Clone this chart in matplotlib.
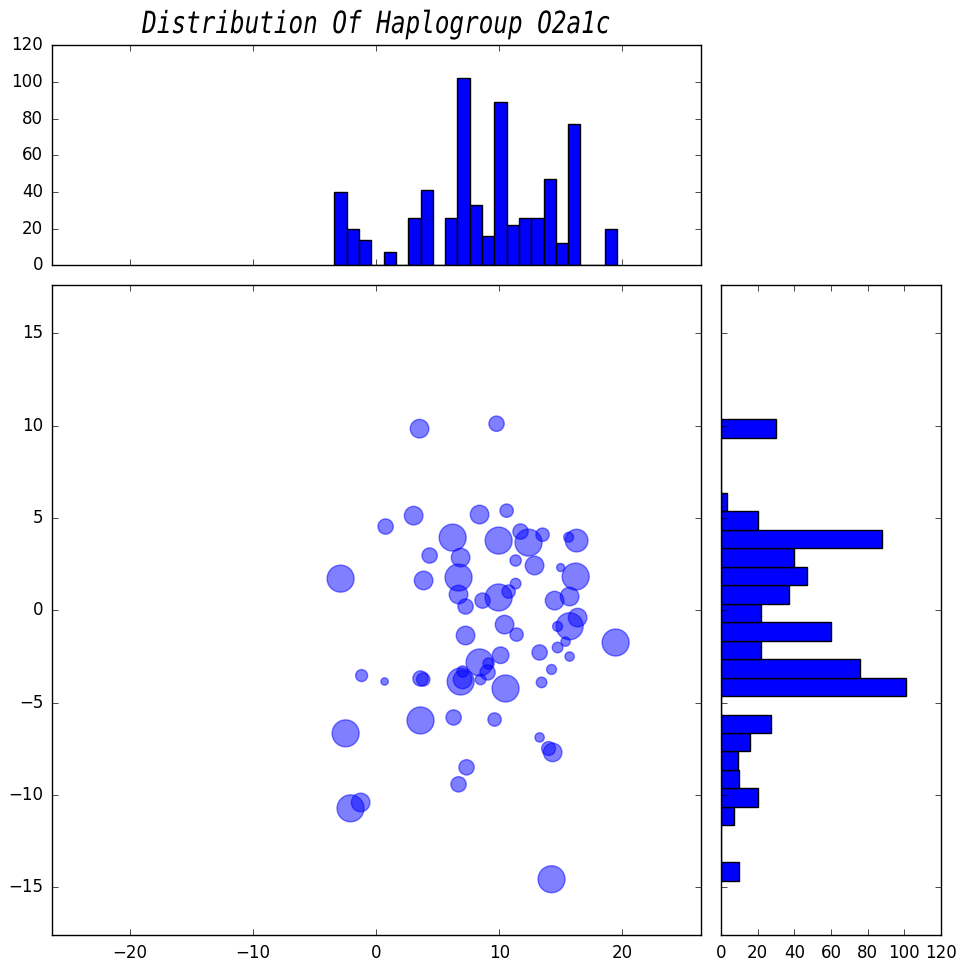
import matplotlib
matplotlib.use("Agg")
import matplotlib.pyplot as plt
import matplotlib.patheffects as pe
from matplotlib.transforms import Affine2D

title = "Distribution Of Haplogroup O2a1c"

x = [3.52, 9.78, 8.40, 10.60, 3.04, 0.76, 6.21, 9.95, 11.73, 12.38, 13.52, 15.64, 16.29, 4.34,
     6.86, 11.33, 12.87, 14.99, -2.90, 6.69, 16.21, 3.85, 11.33, 10.76, 9.95, 6.69, 8.64, 14.50,
     15.72, 7.26, 16.37, 15.72, 14.74, 10.43, 11.41, 7.26, 19.46, 15.39, 14.74, 13.28, 15.72, 10.11,
     8.40, 14.25, 13.44, 9.13, 9.05, 8.48, 7.02, 7.02, 6.86, 10.51, -1.19, 0.68, 3.60, 3.82,
     3.60, 6.29, 9.62, -2.49, 13.28, 14.01, 14.34, 7.34, 6.69, -1.27, -2.09, 14.25]
y = [9.83, 10.10, 5.18, 5.39, 5.12, 4.53, 3.93, 3.77, 4.26, 3.66, 4.09, 3.95, 3.77, 2.96,
     2.85, 2.69, 2.42, 2.31, 1.71, 1.77, 1.82, 1.61, 1.44, 1.01, 0.69, 0.85, 0.52, 0.52,
     0.74, 0.20, -0.40, -0.87, -0.88, -0.78, -1.32, -1.37, -1.75, -1.70, -2.02, -2.29, -2.51, -2.44,
     -2.83, -3.21, -3.91, -2.89, -3.37, -3.75, -3.32, -3.75, -3.86, -4.24, -3.54, -3.86, -3.70, -3.75,
     -5.97, -5.81, -5.92, -6.67, -6.89, -7.49, -7.70, -8.51, -9.43, -10.41, -10.73, -14.57]
sizes = [179, 121, 179, 92, 179, 121, 377, 377, 121, 377, 92, 51, 265, 121,
         179, 66, 179, 33, 377, 377, 377, 179, 58, 92, 377, 179, 121, 179,
         179, 121, 179, 377, 51, 179, 92, 179, 377, 45, 58, 121, 45, 143,
         377, 51, 58, 66, 121, 58, 66, 179, 377, 377, 74, 28, 121, 92,
         377, 121, 92, 377, 45, 100, 179, 121, 121, 179, 377, 377]

top_edges = [-3.4, -2.4, -1.4, -0.4, 0.6, 1.6, 2.6, 3.6, 4.6, 5.6, 6.6, 7.6, 8.6, 9.6, 10.6,
             11.6, 12.6, 13.6, 14.6, 15.6, 16.6, 17.6, 18.6]
top_counts = [40, 20, 14, 0, 7, 0, 26, 41, 0, 26, 102, 33, 16, 89, 22,
              26, 26, 47, 12, 77, 0, 0, 20]
right_edges = [-14.65, -13.65, -12.65, -11.65, -10.65, -9.65, -8.65, -7.65, -6.65, -5.65, -4.65,
               -3.65, -2.65, -1.65, -0.65, 0.35, 1.35, 2.35, 3.35, 4.35, 5.35, 6.35, 7.35, 8.35, 9.35]
right_counts = [10, 0, 0, 7, 20, 10, 9, 16, 27, 0, 101,
                76, 22, 60, 22, 37, 47, 40, 88, 20, 3, 0, 0, 0, 30]

x_ticks = [-20, -10, 0, 10, 20]
y_ticks = [-15, -10, -5, 0, 5, 10, 15]
count_ticks = [0, 20, 40, 60, 80, 100, 120]

plt.style.use("classic")
plt.rcParams["font.family"] = "DejaVu Sans"
W, H = 966, 969
fig = plt.figure(figsize=(W / 100, H / 100), dpi=100, facecolor="white")

def box(l, t, r, b):
    return [l / W, 1 - b / H, (r - l) / W, (b - t) / H]

ax = fig.add_axes(box(51.5, 285.2, 701, 935.2))
ax_top = fig.add_axes(box(51.5, 45.2, 701, 265.2))
ax_right = fig.add_axes(box(721, 285.2, 941, 935.2))

ax.scatter(x, y, s=sizes, c="blue", edgecolors="blue", alpha=0.5, linewidths=1)
ax.set_xlim(-26.4, 26.4)
ax.set_ylim(-17.6, 17.6)
ax.set_xticks(x_ticks)
ax.set_yticks(y_ticks)

ax_top.bar(top_edges, top_counts, width=1.0, align="edge", color="blue", edgecolor="black", linewidth=1)
ax_top.set_xlim(-26.4, 26.4)
ax_top.set_ylim(0, 120)
ax_top.set_xticks(x_ticks)
ax_top.set_yticks(count_ticks)
ax_top.tick_params(labelbottom=False)

ax_right.barh(right_edges, right_counts, height=1.0, align="edge", color="blue", edgecolor="black", linewidth=1)
ax_right.set_xlim(0, 120)
ax_right.set_ylim(-17.6, 17.6)
ax_right.set_xticks(count_ticks)
ax_right.set_yticks(y_ticks)
ax_right.tick_params(labelleft=False)

for a in (ax, ax_top, ax_right):
    a.tick_params(labelsize=12, pad=6)
    for s in a.spines.values():
        s.set_linewidth(1)


class NarrowText(pe.AbstractPathEffect):
    """Squeeze glyph outlines horizontally about a fixed pixel column."""

    def __init__(self, factor, centre):
        super().__init__()
        self.factor = factor
        self.centre = centre

    def draw_path(self, renderer, gc, tpath, affine, rgbFace=None):
        squeeze = Affine2D().translate(-self.centre, 0).scale(self.factor, 1).translate(self.centre, 0)
        renderer.draw_path(gc, tpath, affine + squeeze, rgbFace)


title_text = fig.text(376 / W, 1 - 33 / H, title, ha="center", va="baseline",
                      family="DejaVu Sans Mono", style="oblique", fontsize=22, color="black")
title_text.set_path_effects([NarrowText(17.5 / 22, 376)])

fig.savefig("out.png", dpi=100)
